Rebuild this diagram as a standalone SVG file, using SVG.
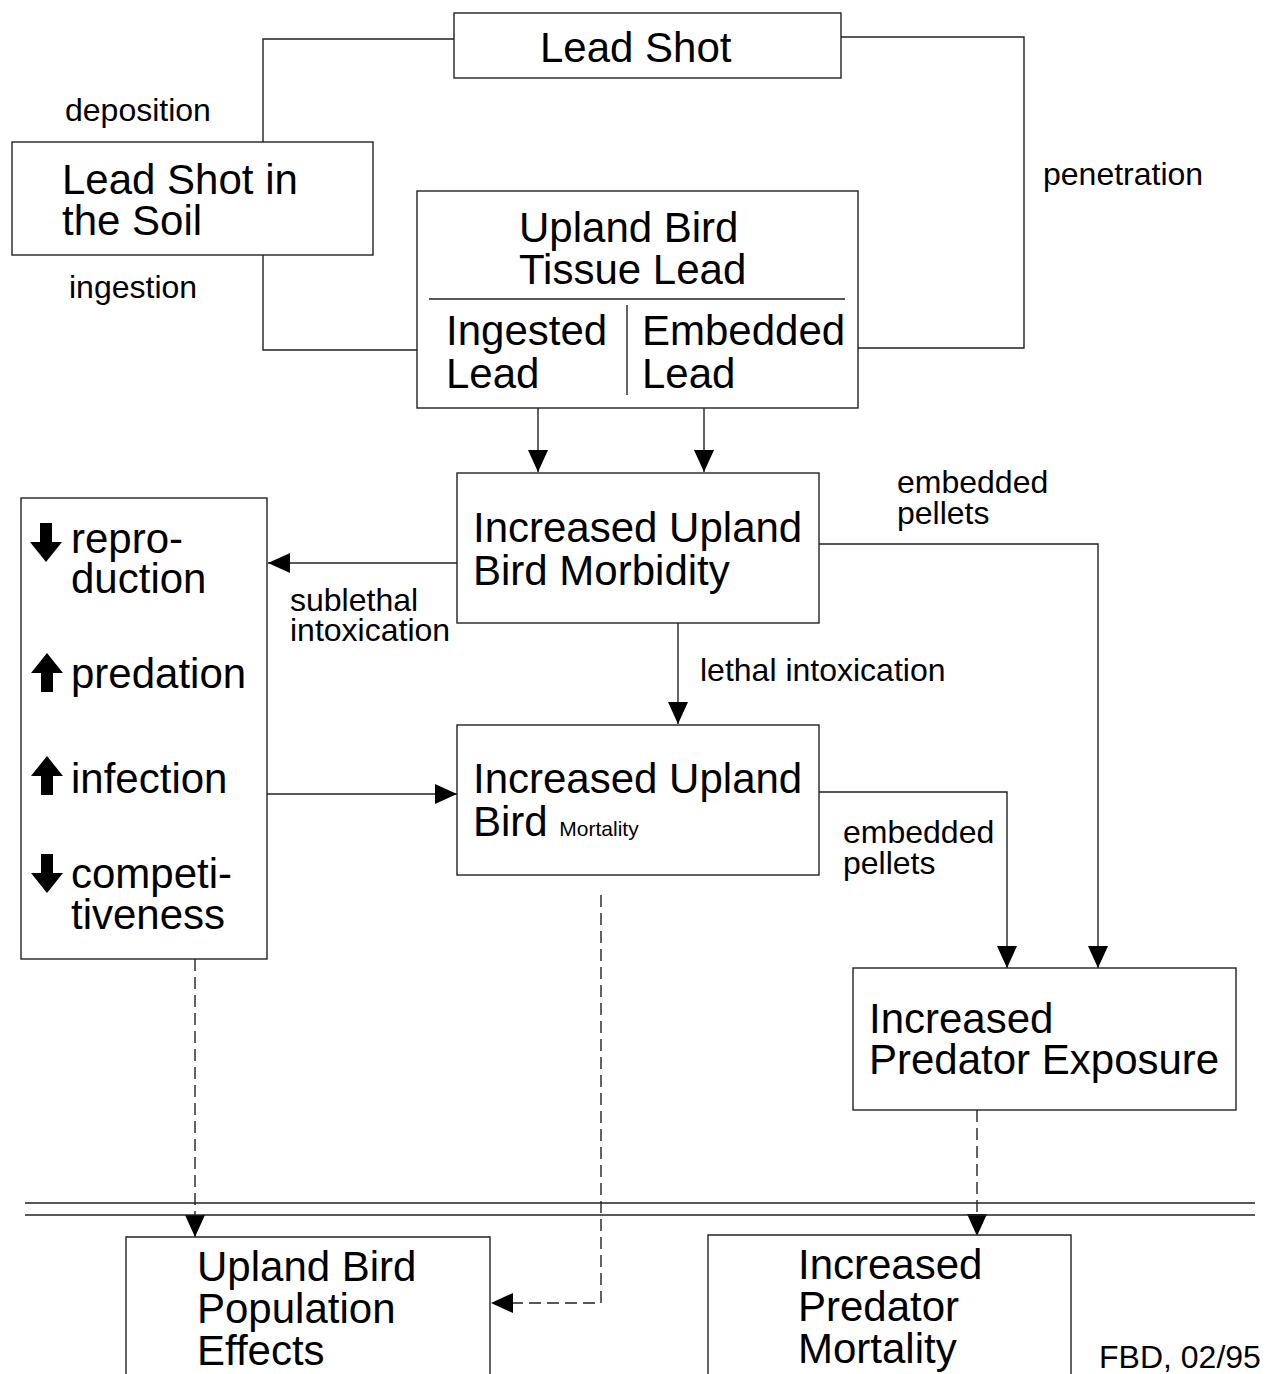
<svg xmlns="http://www.w3.org/2000/svg" width="1277" height="1374" viewBox="0 0 1277 1374">
<defs>
<style>
.box{fill:#fff;stroke:#222;stroke-width:1.4}
.ln{fill:none;stroke:#222;stroke-width:1.4}
.dash{fill:none;stroke:#222;stroke-width:1.4;stroke-dasharray:12 6}
.t{font-family:"Liberation Sans",Arial,sans-serif;font-size:42px;fill:#000}
.l{font-family:"Liberation Sans",Arial,sans-serif;font-size:32px;fill:#000}
.ic{fill:#000}
</style>
<marker id="ah" viewBox="0 0 22 20" refX="22" refY="10" markerWidth="22" markerHeight="20" markerUnits="userSpaceOnUse" orient="auto">
<path d="M0,0 L22,10 L0,20 Z" fill="#000"/>
</marker>
<path id="down" d="M-6,0 H6 V19 H16 L0,39 L-16,19 H-6 Z"/>
<path id="up" d="M-6,39 H6 V20 H16 L0,0 L-16,20 H-6 Z"/>
</defs>
<rect width="1277" height="1374" fill="#fff"/>

<g id="connectors">
<path class="ln" d="M454,39 H263 V142"/>
<path class="ln" d="M263,255 V350 H417"/>
<path class="ln" d="M841,37 H1024 V348 H858"/>
<path class="ln" d="M538,408 V472" marker-end="url(#ah)"/>
<path class="ln" d="M704,408 V472" marker-end="url(#ah)"/>
<path class="ln" d="M457,563 H268" marker-end="url(#ah)"/>
<path class="ln" d="M678,623 V724" marker-end="url(#ah)"/>
<path class="ln" d="M267,794 H457" marker-end="url(#ah)"/>
<path class="ln" d="M819,544 H1098 V968" marker-end="url(#ah)"/>
<path class="ln" d="M819,792 H1007 V968" marker-end="url(#ah)"/>
<path class="dash" d="M195,959 V1237" marker-end="url(#ah)"/>
<path class="dash" d="M977,1110 V1236" marker-end="url(#ah)"/>
<path class="dash" d="M601,895 V1303 H491" marker-end="url(#ah)"/>
<line class="ln" x1="25" y1="1203" x2="1255" y2="1203"/>
<line class="ln" x1="25" y1="1215" x2="1255" y2="1215"/>
</g>

<g id="n-lead-shot">
<rect class="box" x="454" y="13" width="387" height="65"/>
<text class="t" x="540" y="62">Lead Shot</text>
</g>

<g id="n-soil">
<rect class="box" x="12" y="142" width="361" height="113"/>
<text class="t" x="62" y="194">Lead Shot in</text>
<text class="t" x="62" y="235">the Soil</text>
</g>

<g id="n-tissue">
<rect class="box" x="417" y="191" width="441" height="217"/>
<text class="t" x="519" y="242">Upland Bird</text>
<text class="t" x="519" y="284">Tissue Lead</text>
<line class="ln" x1="429" y1="299" x2="845" y2="299"/>
<line class="ln" x1="627" y1="305" x2="627" y2="395"/>
<text class="t" x="446" y="345">Ingested</text>
<text class="t" x="446" y="388">Lead</text>
<text class="t" x="642" y="345">Embedded</text>
<text class="t" x="642" y="388">Lead</text>
</g>

<g id="n-morbidity">
<rect class="box" x="457" y="473" width="362" height="150"/>
<text class="t" x="473" y="542">Increased Upland</text>
<text class="t" x="473" y="585">Bird Morbidity</text>
</g>

<g id="n-effects">
<rect class="box" x="21" y="498" width="246" height="461"/>
<use href="#down" class="ic" x="46" y="523"/>
<text class="t" x="71" y="553">repro-</text>
<text class="t" x="71" y="593">duction</text>
<use href="#up" class="ic" x="47" y="653"/>
<text class="t" x="71" y="688">predation</text>
<use href="#up" class="ic" x="47" y="756"/>
<text class="t" x="71" y="793">infection</text>
<use href="#down" class="ic" x="47" y="854"/>
<text class="t" x="71" y="888">competi-</text>
<text class="t" x="71" y="929">tiveness</text>
</g>

<g id="n-mortality">
<rect class="box" x="457" y="725" width="362" height="150"/>
<text class="t" x="473" y="793">Increased Upland</text>
<text class="t" x="473" y="836">Bird <tspan font-size="21px">Mortality</tspan></text>
</g>

<g id="n-pred-exposure">
<rect class="box" x="853" y="968" width="383" height="142"/>
<text class="t" x="869" y="1033">Increased</text>
<text class="t" x="869" y="1074">Predator Exposure</text>
</g>

<g id="n-population">
<path class="box" d="M126,1380 V1237 H490 V1380"/>
<text class="t" x="197" y="1281">Upland Bird</text>
<text class="t" x="197" y="1323">Population</text>
<text class="t" x="197" y="1365">Effects</text>
</g>

<g id="n-pred-mortality">
<path class="box" d="M708,1380 V1235 H1071 V1380"/>
<text class="t" x="798" y="1279">Increased</text>
<text class="t" x="798" y="1321">Predator</text>
<text class="t" x="798" y="1363">Mortality</text>
</g>

<g id="labels">
<text class="l" x="65" y="121">deposition</text>
<text class="l" x="69" y="298">ingestion</text>
<text class="l" x="1043" y="185">penetration</text>
<text class="l" x="897" y="493">embedded</text>
<text class="l" x="897" y="524">pellets</text>
<text class="l" x="290" y="611">sublethal</text>
<text class="l" x="290" y="641">intoxication</text>
<text class="l" x="700" y="681">lethal intoxication</text>
<text class="l" x="843" y="843">embedded</text>
<text class="l" x="843" y="874">pellets</text>
<text class="l" x="1099" y="1368" font-size="36px">FBD, 02/95</text>
</g>
</svg>
